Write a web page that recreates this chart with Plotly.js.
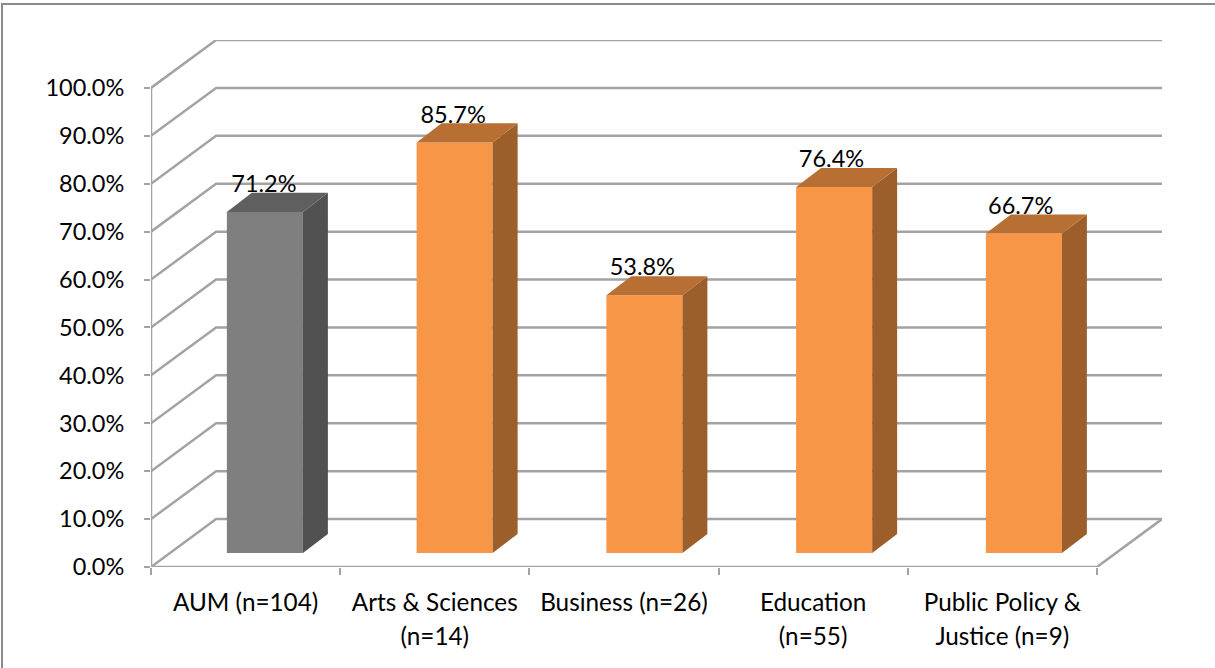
<!DOCTYPE html>
<html>
<head>
<meta charset="utf-8">
<script src="https://cdn.plot.ly/plotly-3.0.1.min.js"></script>
<style>html,body{margin:0;padding:0;background:#fff}#c{width:1215px;height:668px}</style>
</head>
<body>
<div id="c"></div>
<script>
const categoryLine1 = ['AUM (n=104)', 'Arts & Sciences', 'Business (n=26)', 'Education', 'Public Policy &'];
const categoryLine2 = ['', '(n=14)', '', '(n=55)', 'Justice (n=9)'];
const values = [71.2, 85.7, 53.8, 76.4, 66.7];
const valueLabels = ['71.2%', '85.7%', '53.8%', '76.4%', '66.7%'];
const frontColors = ['#7f7f7f', '#f79646', '#f79646', '#f79646', '#f79646'];
const sideColors = ['#515151', '#9c5f2c', '#9c5f2c', '#9c5f2c', '#9c5f2c'];
const topColors = ['#5f5f5f', '#b86f33', '#b86f33', '#b86f33', '#b86f33'];
const gridValues = [0, 10, 20, 30, 40, 50, 60, 70, 80, 90, 100];
const boundaries = [-0.5, 0.5, 1.5, 2.5, 3.5, 4.5];

// Oblique projection constants, in axis units
const wallDX = 0.344, wallDY = 10;      // depth of the chart box
const barDX = 0.102, barDY = 2.9;       // where a bar's front face sits in the box
const depthDX = 0.132, depthDY = 4;     // depth of one bar
const barWidth = 0.402, barSpacing = 1.003;
const lineColor = '#a3a3a3', font = 'Lato, Carlito, sans-serif', fs = 23.5, catFs = 24.3;

const W = 1215, H = 668, m = {l: 151, r: 53, t: 39.5, b: 101};
const xRange = [-0.5, 4.5 + wallDX], yRange = [0, 100 + wallDY];
const px = v => (v - m.l) / (W - m.l - m.r), py = v => 1 - (v - m.t) / (H - m.t - m.b);
const barCenter = i => i * barSpacing + barDX;

const gx = [], gy = [];
gridValues.forEach(v => {
  gx.push(-0.5, -0.5 + wallDX, 4.5 + wallDX, null);
  gy.push(v, v + wallDY, v + wallDY, null);
});
gx.push(-0.5, -0.5, null, -0.5, 4.5, 4.5 + wallDX);
gy.push(0, 100, null, 0, 0, wallDY);

const traces = [{
  x: gx, y: gy, mode: 'lines', line: {color: lineColor, width: 2.5},
  hoverinfo: 'skip', showlegend: false, xaxis: 'x', yaxis: 'y'
}, {
  type: 'bar', x: values.map((v, i) => barCenter(i)), y: values, base: values.map(() => barDY),
  width: barWidth, marker: {color: frontColors, line: {width: 0}},
  hoverinfo: 'skip', showlegend: false, xaxis: 'x2', yaxis: 'y2'
}];

values.forEach((v, i) => {
  const l = barCenter(i) - barWidth / 2, r = barCenter(i) + barWidth / 2, b = barDY, t = barDY + v;
  traces.push({
    x: [r, r + depthDX, r + depthDX, r, r], y: [b, b + depthDY, t + depthDY, t, b],
    mode: 'lines', fill: 'toself', fillcolor: sideColors[i], line: {width: 0},
    hoverinfo: 'skip', showlegend: false, xaxis: 'x2', yaxis: 'y2'
  }, {
    x: [l, r, r + depthDX, l + depthDX, l], y: [t, t, t + depthDY, t + depthDY, t],
    mode: 'lines', fill: 'toself', fillcolor: topColors[i], line: {width: 0},
    hoverinfo: 'skip', showlegend: false, xaxis: 'x2', yaxis: 'y2'
  });
});

traces.push({
  x: values.map((v, i) => i + barDX - 0.005), y: values.map(v => v + barDY + 5.4),
  text: valueLabels, mode: 'text', textposition: 'middle center',
  textfont: {family: font, size: fs, color: '#000'}, cliponaxis: false,
  hoverinfo: 'skip', showlegend: false, xaxis: 'x2', yaxis: 'y2'
});

const centers = values.map((v, i) => i);
const layout = {
  width: W, height: H, margin: m, autosize: false, showlegend: false,
  paper_bgcolor: '#fff', plot_bgcolor: 'rgba(0,0,0,0)', hovermode: false,
  font: {family: font, size: fs, color: '#000'},
  xaxis: {
    range: xRange, fixedrange: true, showgrid: false, zeroline: false, showline: false,
    tickmode: 'array', tickvals: centers, ticktext: categoryLine1, ticks: '', tickangle: 0,
    ticklabelstandoff: 19, tickfont: {family: font, size: catFs, color: '#000'},
    minor: {tickmode: 'array', tickvals: boundaries, ticks: 'outside', ticklen: 7, tickwidth: 2, tickcolor: lineColor, showgrid: false}
  },
  yaxis: {
    range: yRange, fixedrange: true, showgrid: false, zeroline: false, showline: false,
    tickmode: 'array', tickvals: gridValues, ticktext: gridValues.map(v => v.toFixed(1) + '%'),
    ticks: 'outside', ticklen: 6, tickwidth: 2, tickcolor: lineColor, ticklabelstandoff: 15
  },
  xaxis2: {
    overlaying: 'x', range: xRange, fixedrange: true, showgrid: false, zeroline: false, showline: false,
    tickmode: 'array', tickvals: centers, ticktext: categoryLine2, ticks: '', tickangle: 0,
    ticklabelstandoff: 53, tickfont: {family: font, size: catFs, color: '#000'}
  },
  yaxis2: {overlaying: 'y', range: yRange, fixedrange: true, showgrid: false, zeroline: false, showline: false, showticklabels: false, ticks: ''},
  shapes: [
    {type: 'line', xref: 'paper', yref: 'paper', layer: 'below', x0: px(2), x1: px(2), y0: py(668), y1: py(3.5), line: {color: '#8c8c8c', width: 2}},
    {type: 'line', xref: 'paper', yref: 'paper', layer: 'below', x0: px(1), x1: px(1215), y0: py(3.5), y1: py(3.5), line: {color: '#8c8c8c', width: 2}}
  ]
};
Plotly.newPlot('c', traces, layout, {displayModeBar: false, staticPlot: true});
</script>
</body>
</html>
